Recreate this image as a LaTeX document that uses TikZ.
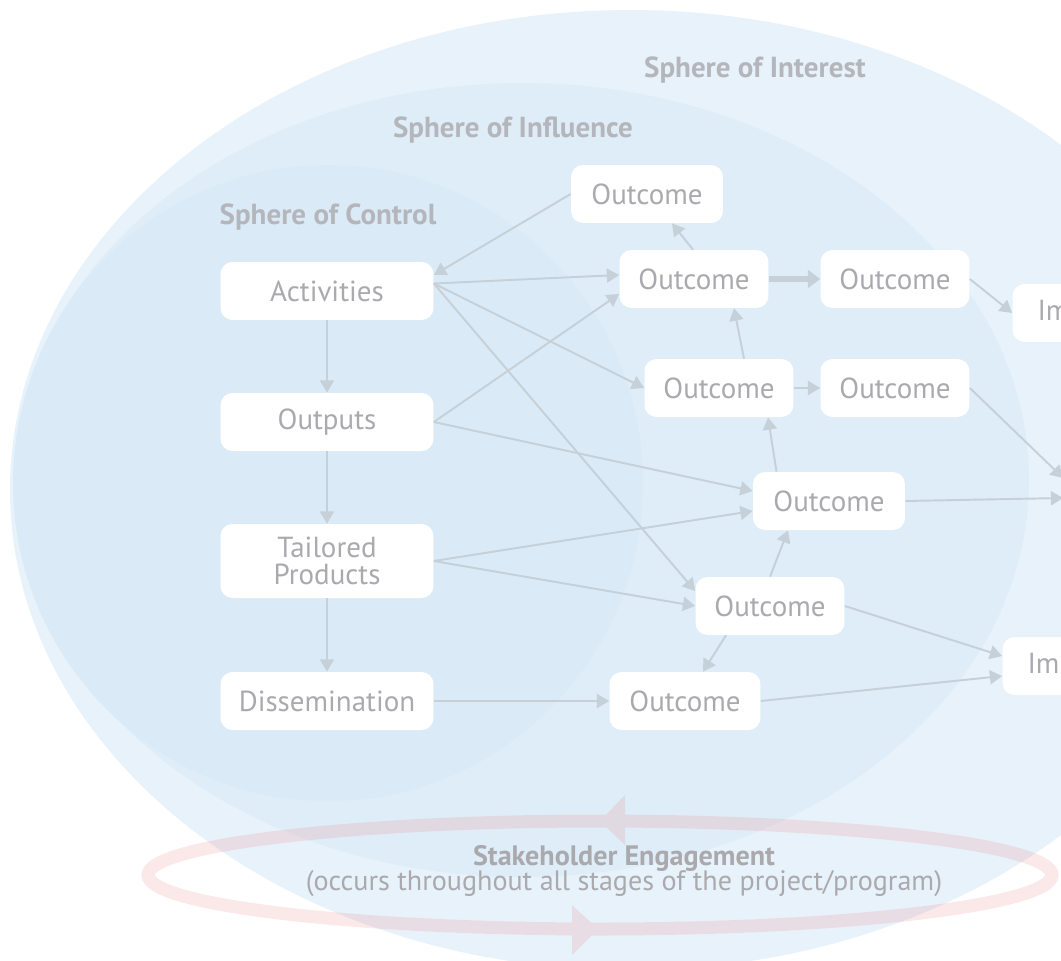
\documentclass[tikz,border=0pt]{standalone}
\usepackage{fontspec}
\setmainfont{PT Sans}
\usetikzlibrary{arrows.meta}
\definecolor{interest}{RGB}{232,242,250}
\definecolor{influence}{RGB}{222,237,248}
\definecolor{control}{RGB}{218,235,247}
\definecolor{boxtext}{RGB}{170,170,174}
\definecolor{labeltext}{RGB}{180,182,188}
\definecolor{arrowgrey}{RGB}{198,208,216}
\definecolor{ringred}{RGB}{235,150,150}

\begin{document}
\begin{tikzpicture}[x=0.02cm, y=-0.02cm,
  box/.style={fill=white, rounded corners=0.24cm, minimum height=1.16cm, inner sep=2pt,
    text=boxtext, align=center, font=\fontsize{16.5}{15.5}\selectfont},
  wide/.style={box, minimum width=4.26cm},
  outc/.style={box, minimum width=2.98cm},
  sphere/.style={text=labeltext, font=\bfseries\fontsize{16.5}{18}\selectfont},
  link/.style={draw=arrowgrey, line width=1.1pt, -{Triangle[length=7pt,width=8pt]}},
  biglink/.style={draw=arrowgrey, line width=3pt, -{Triangle[length=7pt,width=10pt]}}]
  \useasboundingbox (0,0) rectangle (1061,960);
  \clip (0,0) rectangle (1061,960);

  % Spheres
  \fill[interest] (630,490) ellipse [x radius=620, y radius=480];
  \fill[influence] (522,480) ellipse [x radius=507, y radius=397];
  \fill[control] (328,483) ellipse [x radius=315, y radius=318];

  \node[sphere] (interest) at (755,70) {Sphere of Interest};
  \node[sphere] (influence) at (513,130) {Sphere of Influence};
  \node[sphere] (control) at (328,217) {Sphere of Control};

  % Stakeholder ring
  \begin{scope}[transparency group, opacity=0.22]
    \draw[ringred, line width=0.26cm] (600,875) ellipse [x radius=452, y radius=54];
    \fill[ringred] (600,821) -- (625,795) -- (625,845) -- cycle;
    \fill[ringred] (598,929) -- (572,905) -- (572,955) -- cycle;
  \end{scope}
  \node[text=boxtext, font=\bfseries\fontsize{16}{18}\selectfont] (engage) at (624,858) {Stakeholder Engagement};
  \node[text=boxtext, font=\fontsize{16}{18}\selectfont] (stages) at (624,884) {(occurs throughout all stages of the project/program)};

  % Project column
  \node[wide] (act) at (327,291) {Activities};
  \node[wide] (out) at (327,422) {Outputs};
  \node[wide, minimum height=1.48cm] (tail) at (327,561) {Tailored\\Products};
  \node[wide] (dis) at (327,701) {Dissemination};

  % Outcomes
  \node[outc, minimum width=3.04cm] (o1) at (647,194) {Outcome};
  \node[outc] (o2) at (694,279) {Outcome};
  \node[outc] (o3) at (895,279) {Outcome};
  \node[outc] (o4) at (719,388) {Outcome};
  \node[outc] (o5) at (895,388) {Outcome};
  \node[outc, minimum width=3.04cm] (o6) at (829,501) {Outcome};
  \node[outc] (o7) at (770,606) {Outcome};
  \node[outc, minimum width=3.02cm] (o8) at (685,701) {Outcome};

  % Impacts
  \node[outc, minimum width=2.7cm] (imp1) at (1080,313) {Impact};
  \node[outc, minimum width=2.7cm] (imp3) at (1131,493) {Impact};
  \node[outc, minimum width=2.7cm] (imp2) at (1070,666) {Impact};

  % Links
  \coordinate (actout) at ([yshift=0.15cm]act.east);
  \draw[link] (act) -- (out);
  \draw[link] (out) -- (tail);
  \draw[link] (tail) -- (dis);
  \draw[link] (o1.west) -- ([yshift=0.32cm]act.east);
  \draw[link] ([xshift=-0.02cm]o2.north) -- ([xshift=0.5cm]o1.south);
  \draw[link] (actout) -- ([yshift=0.08cm]o2.west);
  \draw[link] (actout) -- (o4.west);
  \draw[link] (actout) -- ([yshift=0.3cm]o7.west);
  \draw[link] (out.east) -- ([yshift=-0.3cm]o2.west);
  \draw[link] (out.east) -- ([yshift=0.2cm]o6.west);
  \draw[link] (tail.east) -- ([yshift=-0.2cm]o6.west);
  \draw[link] (tail.east) -- (o7.west);
  \draw[link] (dis) -- (o8);
  \draw[biglink] (o2) -- (o3);
  \draw[link] (o4) -- (o5);
  \draw[link] ([xshift=0.5cm]o4.north) -- ([xshift=0.8cm]o2.south);
  \draw[link] ([xshift=-1.05cm]o6.north) -- ([xshift=0.98cm]o4.south);
  \draw[link] (o7.north) -- ([xshift=-0.82cm]o6.south);
  \draw[link] ([xshift=-0.88cm]o7.south) -- ([xshift=0.36cm]o8.north);
  \draw[link] (o3.east) -- (imp1.west);
  \draw[link] (o5.east) -- ([yshift=0.3cm]imp3.west);
  \draw[link] (o6.east) -- ([yshift=-0.1cm]imp3.west);
  \draw[link] (o7.east) -- ([yshift=0.2cm]imp2.west);
  \draw[link] (o8.east) -- ([yshift=-0.2cm]imp2.west);

\end{tikzpicture}
\end{document}
